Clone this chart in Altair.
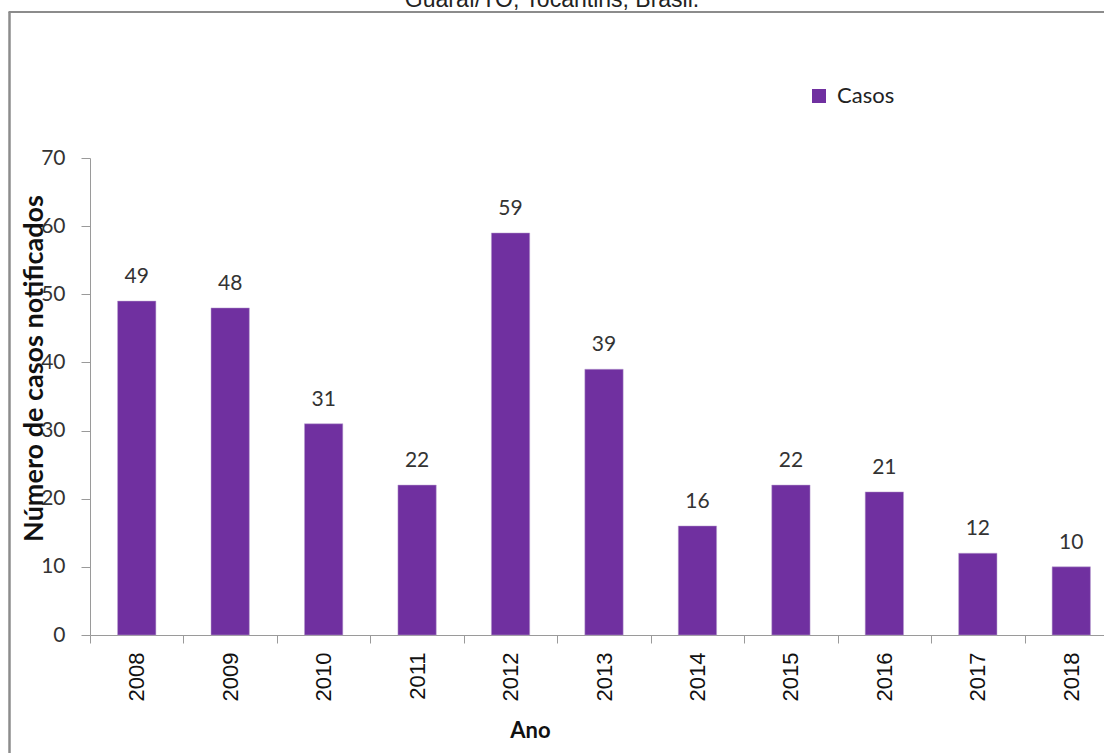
import altair as alt
import pandas as pd

anos = ["2008", "2009", "2010", "2011", "2012", "2013", "2014", "2015", "2016", "2017", "2018"]
casos = [49, 48, 31, 22, 59, 39, 16, 22, 21, 12, 10]
serie = ["Casos"] * len(anos)
titulo = "Guaraí/TO, Tocantins, Brasil."
y_ticks = [0, 10, 20, 30, 40, 50, 60, 70]

df = pd.DataFrame({"Ano": anos, "Casos": casos, "Serie": serie})

LABEL_FONT = "Lato"
AXIS_COLOR = "#9a9a9a"
HALF_STEP = 1028 / 11 / 2

x_enc = alt.X(
    "Ano:N",
    sort=anos,
    scale=alt.Scale(range=[0, 1028], paddingInner=0.59, paddingOuter=0.295),
    axis=alt.Axis(
        title="Ano",
        labelAngle=-90,
        labelFont="Liberation Sans",
        labelFontSize=22,
        labelColor="#111111",
        labelPadding=9,
        tickSize=8,
        tickOffset=-HALF_STEP,
        labelOffset=HALF_STEP,
        domainColor=AXIS_COLOR,
        tickColor=AXIS_COLOR,
        titleFont=LABEL_FONT,
        titleFontSize=22,
        titleFontWeight="bold",
        titleColor="#111111",
        titleX=440,
        titleY=102,
        titleAlign="center",
        titleBaseline="alphabetic",
        grid=False,
    ),
)

y_enc = alt.Y(
    "Casos:Q",
    scale=alt.Scale(domain=[0, 70], nice=False),
    axis=alt.Axis(
        title="Número de casos notificados",
        values=y_ticks,
        labelFont=LABEL_FONT,
        labelFontSize=21,
        labelColor="#333333",
        labelPadding=16,
        tickSize=9,
        domainColor=AXIS_COLOR,
        tickColor=AXIS_COLOR,
        titleFont=LABEL_FONT,
        titleFontSize=27,
        titleFontWeight="bold",
        titleColor="#111111",
        titleX=-48,
        titleY=210,
        titleAlign="center",
        titleBaseline="alphabetic",
        grid=False,
    ),
)

bars = alt.Chart(df).mark_bar(stroke="#b9a0cf", strokeWidth=0.5).encode(
    x=x_enc,
    y=y_enc,
    color=alt.Color(
        "Serie:N",
        scale=alt.Scale(domain=["Casos"], range=["#7030A0"]),
        legend=alt.Legend(
            title=None,
            orient="none",
            legendX=718,
            legendY=-73,
            symbolType="square",
            symbolSize=196,
            symbolStrokeWidth=0,
            labelFont=LABEL_FONT,
            labelFontSize=22,
            labelColor="#222222",
            labelOffset=7,
        ),
    ),
)

labels = alt.Chart(df).mark_text(
    dy=-18, baseline="alphabetic", font=LABEL_FONT, fontSize=21, color="#333333"
).encode(
    x=alt.X("Ano:N", sort=anos),
    y=alt.Y("Casos:Q"),
    text=alt.Text("Casos:Q"),
)

title_df = pd.DataFrame({"t": [titulo]})
title_mark = alt.Chart(title_df).mark_text(
    font="Liberation Sans", fontSize=23, color="#222222", baseline="alphabetic", align="center"
).encode(
    x=alt.value(462),
    y=alt.value(-151.5),
    text="t:N",
)

frame_v = alt.Chart(title_df).mark_rule(color="#8c8c8c", strokeWidth=2.5).encode(
    x=alt.value(-80.5), y=alt.value(-146), y2=alt.value(640)
)
frame_h = alt.Chart(title_df).mark_rule(color="#8c8c8c", strokeWidth=2).encode(
    x=alt.value(-81.5), x2=alt.value(1100), y=alt.value(-146)
)

chart = (
    alt.layer(frame_v, frame_h, bars, labels, title_mark)
    .properties(
        width=1014,
        height=477,
        autosize=alt.AutoSizeParams(type="none"),
        padding={"left": 90, "top": 158, "right": 0, "bottom": 118},
        background="white",
    )
    .configure_view(stroke=None)
)

chart.save("out.html", embed_options={"renderer": "svg", "actions": False})
